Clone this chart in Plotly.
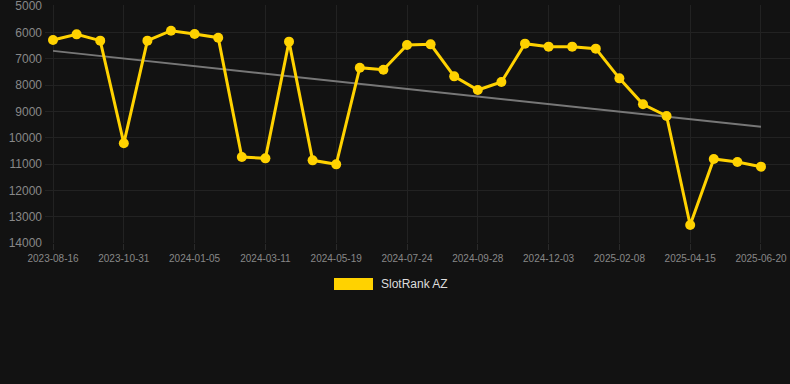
import numpy as np
import plotly.graph_objects as go

dates = ["2023-08-16", "2023-09-10", "2023-10-06", "2023-10-31", "2023-11-22", "2023-12-14",
         "2024-01-05", "2024-01-27", "2024-02-18", "2024-03-11", "2024-04-03", "2024-04-26",
         "2024-05-19", "2024-06-10", "2024-07-02", "2024-07-24", "2024-08-15", "2024-09-06",
         "2024-09-28", "2024-10-20", "2024-11-11", "2024-12-03", "2024-12-25", "2025-01-17",
         "2025-02-08", "2025-03-02", "2025-03-24", "2025-04-15", "2025-05-07", "2025-05-29",
         "2025-06-20"]
ranks = [6290, 6076, 6316, 10215, 6316, 5937, 6063, 6203, 10734, 10785, 6354, 10861,
         11013, 7342, 7418, 6481, 6456, 7671, 8190, 7886, 6430, 6544, 6544, 6620,
         7747, 8734, 9177, 13316, 10810, 10924, 11101]
tick_labels = dates[::3]
y_ticks = [5000, 6000, 7000, 8000, 9000, 10000, 11000, 12000, 13000, 14000]
series_name = "SlotRank AZ"

idx = np.arange(len(ranks))
slope, intercept = np.polyfit(idx, ranks, 1)
trend = slope * idx + intercept

fig = go.Figure()
fig.add_trace(go.Scatter(x=dates, y=trend, mode="lines",
                         line=dict(color="#777777", width=2), showlegend=False,
                         hoverinfo="skip"))
fig.add_trace(go.Scatter(x=dates, y=ranks, mode="lines+markers", name=series_name,
                         line=dict(color="#FFD200", width=3),
                         marker=dict(color="#FFD200", size=10), showlegend=False))

PT, PB, PL, PR = 5, 243, 45, 790
PH, PW = PB - PT, PR - PL

# legend drawn manually
fig.add_shape(type="rect", xref="paper", yref="paper",
              x0=(334 - PL) / PW, x1=(373 - PL) / PW,
              y0=(PB - 290) / PH, y1=(PB - 278) / PH,
              fillcolor="#FFD200", line=dict(width=0))
fig.add_annotation(text=series_name, xref="paper", yref="paper",
                   x=(379 - PL) / PW, y=(PB - 284) / PH,
                   xanchor="left", yanchor="middle", showarrow=False,
                   font=dict(size=12, color="#dddddd"))

fig.update_layout(
    width=790, height=384,
    margin=dict(l=PL, r=790 - PR, t=PT, b=384 - PB, pad=0),
    paper_bgcolor="#121212", plot_bgcolor="#121212",
    font=dict(family="Liberation Sans, Arial, sans-serif", color="#888888"),
    showlegend=False,
)
fig.update_xaxes(type="category", tickvals=tick_labels, ticktext=tick_labels,
                 range=[-0.34, 31.23], showgrid=True, gridcolor="#222222",
                 ticks="outside", ticklen=6, tickcolor="#2a2a2a",
                 tickfont=dict(size=10, color="#888888"), zeroline=False,
                 showline=False, tickangle=0)
fig.update_yaxes(range=[14000, 4962], tickvals=y_ticks, tickformat="d", showgrid=True,
                 gridcolor="#222222", zeroline=False, showline=False,
                 tickfont=dict(size=12, color="#888888"), ticklabelstandoff=2,
                 ticklabeloverflow="allow")

fig.write_html("out.html", config={"displayModeBar": False},
               post_script="document.body.style.margin='0';document.body.style.background='#121212';")
